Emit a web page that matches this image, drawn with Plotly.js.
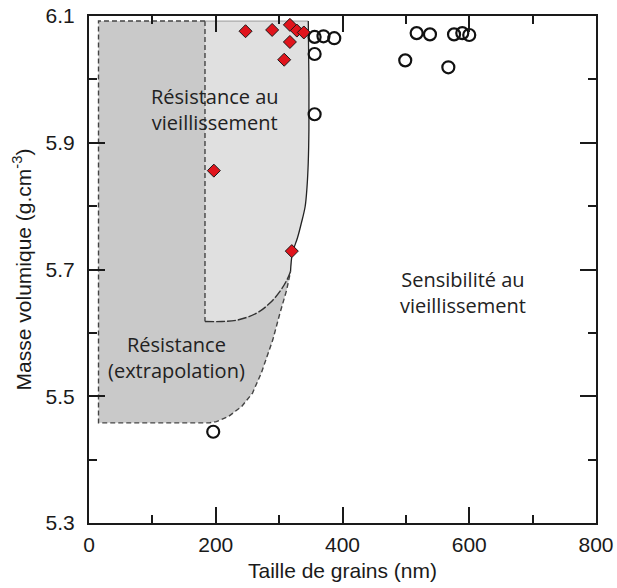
<!DOCTYPE html>
<html><head><meta charset="utf-8">
<script src="https://cdn.plot.ly/plotly-3.0.1.min.js"></script>
<style>html,body{margin:0;padding:0;background:#fff}#chart{width:617px;height:588px}</style>
</head><body><div id="chart"></div>
<script>
// Samples resistant to ageing (red diamonds): grain size (nm), density (g.cm-3)
const resistX = [247, 289, 317, 328, 339, 317, 308, 197, 320];
const resistY = [6.076, 6.078, 6.086, 6.077, 6.074, 6.059, 6.031, 5.856, 5.729];
// Samples sensitive to ageing (open circles)
const sensX = [356, 370, 387, 356, 356, 499, 517, 538, 567, 576, 589, 600, 196];
const sensY = [6.067, 6.068, 6.065, 6.040, 5.945, 6.030, 6.073, 6.071, 6.019, 6.071, 6.073, 6.070, 5.444];

// Extrapolated resistance domain outline (dashed): top-left, left, bottom, lower curve
const extrapX = [183, 15, 15, 190, 201, 220, 241, 258, 272, 281, 290, 301, 312, 318];
const extrapY = [6.092, 6.092, 5.458, 5.458, 5.460, 5.468, 5.484, 5.505, 5.537, 5.562, 5.589, 5.630, 5.668, 5.697];
// Ageing-limit boundary (solid), from the junction up to the top
const limitX = [318, 321, 329, 335, 341, 344, 346, 347, 347, 346];
const limitY = [5.697, 5.726, 5.750, 5.773, 5.799, 5.830, 5.870, 5.920, 6.000, 6.092];
// Measured resistance domain: left edge and lower curve
const domainX = [183, 183, 210, 233, 264.5, 285.5, 301, 312, 318];
const domainY = [6.092, 5.618, 5.618, 5.620, 5.631, 5.647, 5.665, 5.683, 5.697];

// Tick labels
const xTicks = [0, 200, 400, 600, 800];
const yTicks = [5.3, 5.5, 5.7, 5.9, 6.1];

const ink = '#1a1a1a';
const darkFillX = extrapX.slice(1).concat(limitX.slice(1));
const darkFillY = extrapY.slice(1).concat(limitY.slice(1));
const lightFillX = domainX.concat(limitX.slice(1));
const lightFillY = domainY.concat(limitY.slice(1));

const traces = [
  {x: darkFillX, y: darkFillY, mode: 'lines', fill: 'toself', fillcolor: '#c9c9c9',
   line: {width: 0}, hoverinfo: 'skip'},
  {x: lightFillX, y: lightFillY, mode: 'lines', fill: 'toself', fillcolor: '#e0e0e0',
   line: {width: 0}, hoverinfo: 'skip'},
  {x: extrapX, y: extrapY, mode: 'lines', line: {color: '#444', width: 1.4, dash: '5px,3px'}, hoverinfo: 'skip'},
  {x: domainX.slice(0, 2), y: domainY.slice(0, 2), mode: 'lines', line: {color: '#444', width: 1.4, dash: '5px,3px'}, hoverinfo: 'skip'},
  {x: domainX.slice(1), y: domainY.slice(1), mode: 'lines', line: {color: '#333', width: 1.4, dash: '9px,2px', shape: 'spline'}, hoverinfo: 'skip'},
  {x: [domainX[0], limitX[limitX.length-1]], y: [domainY[0], limitY[limitY.length-1]], mode: 'lines', line: {color: '#999', width: 1}, hoverinfo: 'skip'},
  {x: limitX, y: limitY, mode: 'lines', line: {color: '#222', width: 1.3, shape: 'spline'}, hoverinfo: 'skip'},
  {x: resistX, y: resistY, mode: 'markers',
   marker: {symbol: 'diamond', size: 10, color: '#e0141c', line: {color: '#1a1a1a', width: 1}}},
  {x: sensX, y: sensY, mode: 'markers',
   marker: {symbol: 'circle-open', size: 12, color: '#111', line: {width: 2.2}}}
];

const axisCommon = {
  showline: true, linecolor: ink, linewidth: 2, mirror: 'ticks',
  ticks: 'inside', ticklen: 16, tickwidth: 2, tickcolor: ink,
  showgrid: false, zeroline: false,
  tickfont: {family: 'Liberation Sans, Arial, sans-serif', size: 21, color: ink}
};

const layout = {
  width: 617, height: 588,
  margin: {l: 89, r: 21, t: 16, b: 65},
  paper_bgcolor: '#fff', plot_bgcolor: '#fff',
  showlegend: false,
  font: {family: 'Liberation Sans, Arial, sans-serif', color: ink},
  xaxis: Object.assign({}, axisCommon, {
    range: [0, 800], tickvals: xTicks, ticktext: xTicks.map(String),
    minor: {dtick: 100, tick0: 0, ticks: 'inside', ticklen: 8, tickwidth: 2, tickcolor: ink, showgrid: false},
    ticklabelstandoff: 2,
    title: {text: 'Taille de grains (nm)', font: {size: 21, color: ink}, standoff: 8}
  }),
  yaxis: Object.assign({}, axisCommon, {
    range: [5.3, 6.1], tickvals: yTicks, ticktext: yTicks.map(v => v.toFixed(1)),
    minor: {dtick: 0.1, tick0: 5.3, ticks: 'inside', ticklen: 8, tickwidth: 2, tickcolor: ink, showgrid: false},
    ticklabelstandoff: 8,
    title: {text: 'Masse volumique (g.cm<sup>-3</sup>)', font: {size: 21, color: ink}, standoff: 8}
  }),
  annotations: [
    {x: 199, y: 5.953, xref: 'x', yref: 'y', showarrow: false,
     text: 'Résistance au<br>vieillissement', font: {family: 'Open Sans, sans-serif', size: 20, color: '#222'}},
    {x: 138, y: 5.561, xref: 'x', yref: 'y', showarrow: false,
     text: 'Résistance<br>(extrapolation)', font: {family: 'Open Sans, sans-serif', size: 20, color: '#222'}},
    {x: 590, y: 5.663, xref: 'x', yref: 'y', showarrow: false,
     text: 'Sensibilité au<br>vieillissement', font: {family: 'Open Sans, sans-serif', size: 20, color: '#222'}}
  ]
};

Plotly.newPlot('chart', traces, layout, {displayModeBar: false, staticPlot: true});
</script>
</body></html>
